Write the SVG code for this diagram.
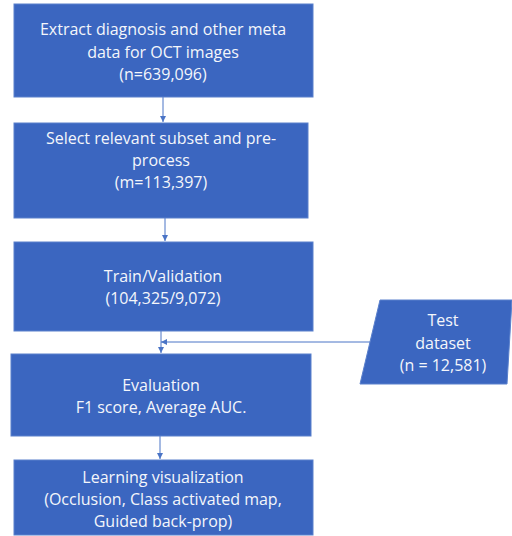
<svg xmlns="http://www.w3.org/2000/svg" width="512" height="536" viewBox="0 0 512 536">
<defs>
<style>
.box{fill:#3b66c0;stroke:#5a80cc;stroke-width:1}
.t{fill:#f4f6fb;font-family:"Open Sans","Liberation Sans",sans-serif;font-size:16px;text-anchor:middle}
.c{stroke:#4a74c6;stroke-width:1;fill:none}
</style>
<marker id="ah" viewBox="0 0 10 10" refX="10" refY="5" markerWidth="6" markerHeight="6" orient="auto" markerUnits="userSpaceOnUse">
<path d="M0,0 L10,5 L0,10 z" fill="#4a74c6"/>
</marker>
</defs>
<rect width="512" height="536" fill="#ffffff"/>
<g id="connectors">
<line class="c" x1="163" y1="97" x2="163" y2="122" marker-end="url(#ah)"/>
<line class="c" x1="165" y1="218" x2="165" y2="241" marker-end="url(#ah)"/>
<line class="c" x1="161" y1="331" x2="161" y2="353" marker-end="url(#ah)"/>
<line class="c" x1="370" y1="342" x2="161" y2="342" marker-end="url(#ah)"/>
<line class="c" x1="160" y1="436" x2="160" y2="459" marker-end="url(#ah)"/>
</g>
<g id="n1">
<rect class="box" x="14" y="4" width="299" height="93"/>
<text class="t" x="163" y="35">Extract diagnosis and other meta</text>
<text class="t" x="163" y="58">data for OCT images</text>
<text class="t" x="163" y="80">(n=639,096)</text>
</g>
<g id="n2">
<rect class="box" x="14" y="123" width="294" height="95"/>
<text class="t" x="161" y="144">Select relevant subset and pre-</text>
<text class="t" x="161" y="166">process</text>
<text class="t" x="161" y="188">(m=113,397)</text>
</g>
<g id="n3">
<rect class="box" x="14" y="242" width="299" height="89"/>
<text class="t" x="163" y="282">Train/Validation</text>
<text class="t" x="163" y="304">(104,325/9,072)</text>
</g>
<g id="n4">
<polygon class="box" points="380,300 512,300 507,384 360,384"/>
<text class="t" x="443" y="326">Test</text>
<text class="t" x="443" y="349">dataset</text>
<text class="t" x="443" y="371">(n = 12,581)</text>
</g>
<g id="n5">
<rect class="box" x="11" y="354" width="300" height="82"/>
<text class="t" x="161" y="391">Evaluation</text>
<text class="t" x="161" y="413">F1 score, Average AUC.</text>
</g>
<g id="n6">
<rect class="box" x="14" y="460" width="299" height="75"/>
<text class="t" x="163" y="483">Learning visualization</text>
<text class="t" x="163" y="505">(Occlusion, Class activated map,</text>
<text class="t" x="163" y="527">Guided back-prop)</text>
</g>
</svg>
